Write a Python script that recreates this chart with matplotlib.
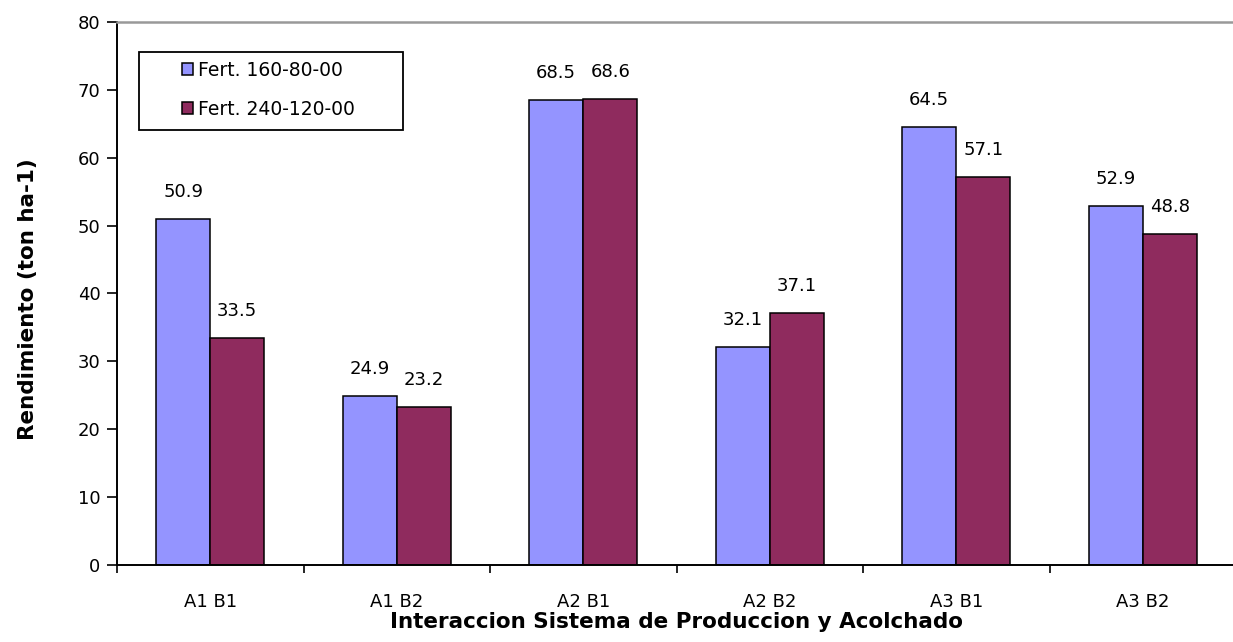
import matplotlib.pyplot as plt
from matplotlib.patches import Patch, Rectangle
import numpy as np

### data
grupos = ['A1 B1', 'A1 B2', 'A2 B1', 'A2 B2', 'A3 B1', 'A3 B2']
fert_160 = [50.9, 24.9, 68.5, 32.1, 64.5, 52.9]
fert_240 = [33.5, 23.2, 68.6, 37.1, 57.1, 48.8]
series = ['Fert. 160-80-00', 'Fert. 240-120-00']
colores = ['#9494FF', '#8F2B5E']

plt.rcParams['font.family'] = ['DejaVu Sans']

W, H = 1233, 642
fig = plt.figure(figsize=(W / 100, H / 100), dpi=100)
ax = fig.add_axes([0.0949, 0.12, 0.9076, 0.8458])

x = np.arange(len(grupos)) + 0.5
w = 0.29
b1 = ax.bar(x - w / 2, fert_160, w, color=colores[0], edgecolor='black', linewidth=1.1)
b2 = ax.bar(x + w / 2, fert_240, w, color=colores[1], edgecolor='black', linewidth=1.1)

### value labels above bars
for bars in (b1, b2):
    for r in bars:
        ax.annotate('{:.1f}'.format(r.get_height()), (r.get_x() + r.get_width() / 2, r.get_height()),
                    xytext=(0, 13), textcoords='offset points', ha='center', va='bottom', fontsize=13)

ax.set_xlim(0, 6)
ax.set_ylim(0, 80)
ax.set_yticks(range(0, 81, 10))
ax.set_xticks(range(0, 7))
ax.set_xticklabels([])
ax.set_xticks(x, minor=True)
ax.set_xticklabels(grupos, minor=True, fontsize=13)
ax.tick_params(axis='x', which='minor', length=0, pad=20)
ax.tick_params(axis='x', which='major', direction='out', length=6, width=1.2)
ax.tick_params(axis='y', direction='out', length=7, width=1.2, labelsize=13, pad=5)

for s in ('left', 'bottom'):
    ax.spines[s].set_linewidth(1.4)
ax.spines['top'].set_color('#999999')
ax.spines['top'].set_linewidth(1.8)
ax.spines['right'].set_visible(False)

ax.set_ylabel('Rendimiento (ton ha-1)', fontsize=15.5, fontweight='bold')
ax.yaxis.set_label_coords(-0.0706, 0.49)
ax.set_xlabel('Interaccion Sistema de Produccion y Acolchado', fontsize=15.5, fontweight='bold')
ax.xaxis.set_label_coords(0.5, -0.086)

### legend: entries without frame, box drawn separately
handles = [Patch(facecolor=c, edgecolor='black', linewidth=1.1) for c in colores]
ax.legend(handles, series, loc='upper left', bbox_to_anchor=(182 / W, 1 - 61 / H),
          bbox_transform=fig.transFigure, frameon=False, fontsize=13.5,
          handlelength=0.6, handleheight=0.6, handletextpad=0.25,
          borderpad=0, labelspacing=1.05, borderaxespad=0)
fig.patches.append(Rectangle((139 / W, 1 - 130 / H), 264 / W, 78 / H, transform=fig.transFigure,
                             facecolor='none', edgecolor='black', linewidth=1.3))

fig.savefig('out.png', dpi=100)
